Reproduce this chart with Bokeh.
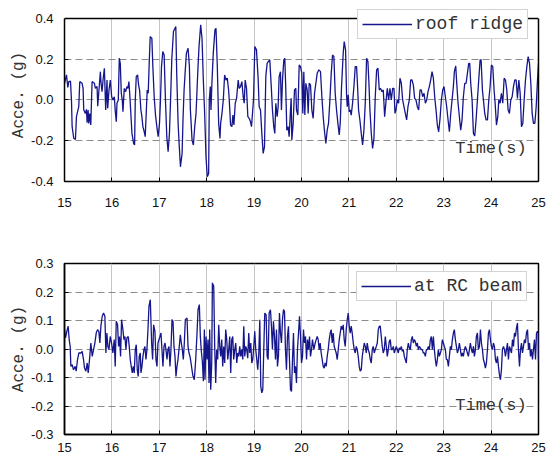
from bokeh.plotting import figure
from bokeh.models import (Range1d, FixedTicker, PrintfTickFormatter, Legend,
                          LegendItem, Label, BoxAnnotation, Span, LinearAxis)
from bokeh.layouts import column
from bokeh.embed import file_html
from bokeh.resources import INLINE

# ---------------- data (time s, acceleration g) ----------------
x_ticks = list(range(15, 26))
roof_y_ticks = [-0.4, -0.2, 0.0, 0.2, 0.4]
beam_y_ticks = [-0.3, -0.2, -0.1, 0.0, 0.1, 0.2, 0.3]

roof_ridge = [
    (15.000, 0.082), (15.042, 0.123), (15.070, 0.062), (15.091, 0.090), (15.126, 0.093),
    (15.147, 0.000), (15.161, -0.131), (15.196, -0.189), (15.231, -0.193), (15.252, -0.082),
    (15.301, -0.033), (15.322, 0.090), (15.371, 0.082), (15.392, 0.057), (15.406, -0.049),
    (15.441, -0.066), (15.463, -0.046), (15.477, -0.111), (15.498, -0.049), (15.512, -0.115),
    (15.533, -0.066), (15.554, -0.123), (15.582, 0.090), (15.631, 0.082), (15.652, 0.057),
    (15.687, 0.066), (15.701, -0.030), (15.722, 0.033), (15.757, 0.139), (15.771, 0.082),
    (15.792, 0.041), (15.813, 0.098), (15.841, 0.156), (15.869, -0.049), (15.897, 0.098),
    (15.911, -0.041), (15.939, 0.049), (15.967, 0.098), (15.995, 0.016), (16.023, 0.000),
    (16.051, 0.016), (16.072, -0.057), (16.093, -0.107), (16.107, -0.016), (16.135, 0.000),
    (16.156, 0.205), (16.177, 0.180), (16.198, 0.033), (16.219, 0.000), (16.233, -0.057),
    (16.261, 0.057), (16.289, 0.041), (16.317, 0.066), (16.338, 0.057), (16.359, 0.090),
    (16.380, 0.016), (16.423, -0.164), (16.458, -0.213), (16.479, -0.221), (16.493, 0.000),
    (16.514, 0.115), (16.542, 0.123), (16.563, 0.074), (16.584, 0.049), (16.612, -0.049),
    (16.633, -0.082), (16.654, -0.131), (16.682, -0.156), (16.703, -0.180), (16.724, -0.066),
    (16.745, 0.049), (16.766, 0.033), (16.787, 0.180), (16.808, 0.311), (16.843, 0.303),
    (16.864, 0.164), (16.892, 0.016), (16.920, -0.074), (16.948, -0.131), (16.976, -0.180),
    (17.004, -0.115), (17.025, 0.000), (17.046, 0.164), (17.074, 0.238), (17.102, 0.221),
    (17.130, 0.000), (17.158, -0.180), (17.186, -0.254), (17.214, -0.164), (17.242, 0.033),
    (17.263, 0.197), (17.299, 0.336), (17.348, 0.361), (17.369, 0.115), (17.397, -0.115),
    (17.418, -0.213), (17.446, -0.328), (17.481, -0.262), (17.502, -0.082), (17.523, 0.049),
    (17.544, 0.131), (17.572, 0.230), (17.607, 0.254), (17.635, 0.164), (17.656, -0.049),
    (17.691, -0.197), (17.719, -0.221), (17.747, -0.131), (17.775, -0.066), (17.817, 0.164),
    (17.838, 0.262), (17.873, 0.369), (17.901, 0.303), (17.929, 0.098), (17.957, -0.066),
    (17.985, -0.279), (18.013, -0.377), (18.041, -0.361), (18.055, 0.000), (18.076, 0.066),
    (18.090, -0.049), (18.111, 0.090), (18.139, 0.230), (18.174, 0.344), (18.196, 0.352),
    (18.224, 0.164), (18.252, -0.115), (18.280, -0.189), (18.294, -0.115), (18.322, -0.066),
    (18.350, 0.000), (18.378, 0.123), (18.406, 0.098), (18.434, 0.107), (18.462, 0.049),
    (18.476, 0.000), (18.504, -0.123), (18.532, -0.131), (18.553, -0.074), (18.574, -0.123),
    (18.602, -0.016), (18.630, 0.008), (18.665, 0.098), (18.686, 0.057), (18.714, 0.066),
    (18.742, 0.090), (18.770, 0.016), (18.791, -0.016), (18.812, 0.098), (18.840, 0.057),
    (18.868, -0.082), (18.896, -0.090), (18.924, -0.107), (18.945, -0.131), (18.966, -0.066),
    (18.987, 0.000), (19.015, 0.262), (19.050, 0.246), (19.085, 0.107), (19.107, -0.033),
    (19.135, -0.049), (19.163, -0.164), (19.191, -0.262), (19.219, -0.230), (19.247, 0.115),
    (19.275, 0.180), (19.303, 0.189), (19.331, 0.197), (19.366, 0.049), (19.387, -0.049),
    (19.415, -0.131), (19.437, -0.164), (19.458, -0.016), (19.486, -0.082), (19.507, -0.033),
    (19.528, 0.115), (19.556, 0.139), (19.577, -0.049), (19.599, 0.098), (19.627, 0.197),
    (19.648, 0.205), (19.669, 0.049), (19.690, -0.148), (19.718, -0.131), (19.739, -0.180),
    (19.768, -0.049), (19.782, 0.008), (19.796, -0.197), (19.824, -0.115), (19.852, 0.049),
    (19.880, 0.057), (19.894, -0.049), (19.923, -0.074), (19.951, 0.172), (19.979, 0.164),
    (20.007, 0.131), (20.028, -0.066), (20.049, 0.139), (20.070, -0.074), (20.092, 0.082),
    (20.120, 0.049), (20.141, -0.066), (20.162, 0.082), (20.190, 0.074), (20.218, -0.049),
    (20.246, -0.090), (20.275, 0.033), (20.303, 0.082), (20.331, 0.131), (20.366, 0.148),
    (20.401, 0.139), (20.430, 0.016), (20.458, -0.082), (20.486, -0.156), (20.514, -0.213),
    (20.542, -0.148), (20.570, -0.115), (20.599, 0.000), (20.627, 0.131), (20.655, 0.221),
    (20.683, 0.213), (20.711, 0.033), (20.739, -0.049), (20.768, -0.115), (20.796, -0.172),
    (20.817, -0.115), (20.845, 0.066), (20.880, 0.230), (20.901, 0.287), (20.930, 0.246),
    (20.951, 0.025), (20.965, -0.033), (20.986, 0.025), (21.007, -0.057), (21.028, -0.049),
    (21.049, -0.074), (21.077, -0.016), (21.106, 0.066), (21.134, 0.164), (21.162, 0.164),
    (21.183, 0.066), (21.204, -0.049), (21.232, -0.098), (21.261, -0.164), (21.289, -0.221),
    (21.317, -0.148), (21.345, -0.016), (21.373, 0.205), (21.401, 0.189), (21.423, 0.082),
    (21.444, -0.049), (21.472, -0.164), (21.500, -0.238), (21.528, -0.189), (21.556, 0.016),
    (21.585, 0.148), (21.613, 0.156), (21.641, 0.049), (21.669, 0.057), (21.697, 0.041),
    (21.725, 0.049), (21.754, -0.082), (21.782, -0.008), (21.810, 0.057), (21.838, 0.000),
    (21.866, 0.057), (21.894, 0.000), (21.923, 0.057), (21.951, 0.057), (21.972, -0.066),
    (21.993, -0.049), (22.021, 0.000), (22.049, -0.016), (22.077, 0.107), (22.106, 0.082),
    (22.134, 0.000), (22.162, -0.033), (22.190, -0.066), (22.218, -0.098), (22.246, -0.033),
    (22.275, 0.000), (22.303, 0.098), (22.331, 0.098), (22.359, 0.074), (22.387, 0.008),
    (22.415, 0.000), (22.444, -0.033), (22.472, -0.049), (22.500, 0.049), (22.528, 0.049),
    (22.556, 0.016), (22.585, 0.033), (22.613, -0.016), (22.641, 0.000), (22.669, 0.041),
    (22.697, 0.066), (22.725, 0.098), (22.754, 0.139), (22.782, 0.107), (22.810, 0.016),
    (22.838, -0.049), (22.866, -0.123), (22.894, -0.156), (22.923, -0.090), (22.951, 0.000),
    (22.979, 0.049), (23.007, 0.066), (23.035, 0.016), (23.063, -0.033), (23.092, -0.098),
    (23.120, -0.156), (23.148, -0.066), (23.176, 0.000), (23.204, 0.066), (23.225, 0.139),
    (23.254, 0.167), (23.275, 0.082), (23.303, -0.016), (23.331, -0.082), (23.359, -0.148),
    (23.387, -0.098), (23.415, 0.016), (23.444, 0.082), (23.472, 0.082), (23.500, 0.131),
    (23.528, 0.180), (23.549, 0.180), (23.570, 0.082), (23.599, 0.000), (23.627, -0.164),
    (23.655, -0.177), (23.683, -0.098), (23.711, 0.000), (23.739, 0.098), (23.768, 0.197),
    (23.789, 0.197), (23.817, 0.049), (23.838, 0.000), (23.866, -0.066), (23.894, -0.098),
    (23.923, -0.098), (23.951, 0.000), (23.979, 0.066), (24.007, 0.172), (24.035, 0.164),
    (24.063, 0.049), (24.085, -0.016), (24.113, -0.123), (24.141, -0.082), (24.162, 0.000),
    (24.190, -0.016), (24.218, 0.033), (24.246, -0.016), (24.275, 0.107), (24.303, 0.098),
    (24.331, 0.049), (24.359, -0.049), (24.387, -0.066), (24.415, 0.000), (24.444, 0.016),
    (24.472, 0.066), (24.500, 0.098), (24.528, 0.098), (24.556, 0.008), (24.585, 0.098),
    (24.613, 0.033), (24.641, -0.131), (24.669, -0.115), (24.697, 0.000), (24.725, 0.098),
    (24.754, 0.164), (24.782, 0.213), (24.810, 0.180), (24.838, 0.082), (24.866, -0.066),
    (24.894, -0.115), (24.923, -0.115), (24.951, -0.033), (24.979, 0.098), (25.000, 0.180),
]

rc_beam = [
    (15.000, 0.068), (15.021, 0.039), (15.049, 0.062), (15.077, 0.080), (15.099, 0.033),
    (15.120, 0.009), (15.134, -0.061), (15.162, -0.055), (15.190, -0.073), (15.225, -0.061),
    (15.246, -0.078), (15.275, -0.037), (15.303, -0.014), (15.345, -0.014), (15.373, -0.008),
    (15.401, -0.037), (15.423, -0.067), (15.451, -0.078), (15.479, -0.049), (15.500, -0.084),
    (15.528, -0.037), (15.556, 0.021), (15.585, -0.026), (15.613, -0.002), (15.641, 0.021),
    (15.669, 0.056), (15.697, 0.068), (15.725, 0.062), (15.746, 0.021), (15.768, 0.080),
    (15.796, 0.115), (15.824, 0.126), (15.852, 0.115), (15.873, -0.014), (15.894, 0.056),
    (15.915, 0.009), (15.937, -0.002), (15.965, 0.044), (15.993, 0.021), (16.021, -0.014),
    (16.049, 0.033), (16.070, -0.061), (16.092, 0.097), (16.120, 0.085), (16.141, 0.009),
    (16.162, 0.044), (16.183, -0.026), (16.204, 0.103), (16.232, 0.068), (16.254, 0.033),
    (16.275, 0.044), (16.296, -0.002), (16.317, 0.039), (16.345, 0.044), (16.366, 0.009),
    (16.387, -0.037), (16.408, -0.061), (16.430, -0.084), (16.451, -0.061), (16.472, -0.084),
    (16.493, -0.002), (16.514, 0.015), (16.535, -0.073), (16.556, -0.096), (16.577, -0.026),
    (16.599, -0.014), (16.613, -0.084), (16.634, -0.061), (16.655, -0.026), (16.676, -0.002),
    (16.697, 0.009), (16.718, -0.037), (16.739, -0.002), (16.761, 0.068), (16.782, 0.150),
    (16.810, 0.173), (16.838, 0.021), (16.859, -0.037), (16.880, 0.085), (16.908, 0.062),
    (16.930, -0.037), (16.951, -0.061), (16.972, 0.021), (16.993, 0.033), (17.014, 0.044),
    (17.035, 0.056), (17.056, -0.002), (17.077, -0.061), (17.099, 0.009), (17.120, 0.021),
    (17.141, -0.002), (17.162, -0.037), (17.183, -0.002), (17.204, 0.009), (17.225, -0.061),
    (17.246, -0.002), (17.268, 0.103), (17.289, 0.097), (17.310, 0.009), (17.331, -0.026),
    (17.352, -0.096), (17.373, -0.061), (17.394, -0.037), (17.415, -0.002), (17.444, 0.050),
    (17.465, 0.021), (17.486, -0.002), (17.507, -0.037), (17.528, 0.021), (17.549, 0.103),
    (17.585, 0.109), (17.606, 0.009), (17.627, -0.014), (17.648, -0.026), (17.669, -0.049),
    (17.690, -0.073), (17.711, -0.096), (17.739, -0.108), (17.768, -0.037), (17.796, 0.056),
    (17.817, 0.138), (17.845, 0.156), (17.866, 0.044), (17.887, -0.008), (17.908, -0.043),
    (17.930, -0.113), (17.951, 0.068), (17.965, -0.108), (17.986, 0.044), (18.007, -0.037),
    (18.028, 0.033), (18.049, -0.119), (18.063, 0.068), (18.085, -0.143), (18.106, -0.049),
    (18.120, 0.232), (18.148, 0.220), (18.169, 0.009), (18.190, -0.119), (18.211, -0.002),
    (18.232, -0.037), (18.254, 0.085), (18.275, 0.009), (18.296, -0.026), (18.317, 0.033),
    (18.338, -0.061), (18.359, 0.009), (18.380, -0.049), (18.401, 0.068), (18.423, 0.033),
    (18.444, -0.037), (18.465, -0.002), (18.486, 0.044), (18.507, -0.084), (18.528, 0.033),
    (18.549, 0.044), (18.570, -0.037), (18.592, -0.002), (18.613, 0.021), (18.634, -0.049),
    (18.655, -0.014), (18.676, -0.026), (18.697, 0.009), (18.718, -0.026), (18.739, -0.002),
    (18.761, -0.037), (18.782, 0.080), (18.803, -0.026), (18.824, 0.009), (18.845, -0.002),
    (18.866, -0.032), (18.887, 0.056), (18.908, -0.014), (18.930, 0.021), (18.951, -0.049),
    (18.972, -0.037), (18.993, 0.009), (19.014, 0.062), (19.035, -0.002), (19.056, -0.037),
    (19.077, -0.073), (19.099, -0.014), (19.120, 0.103), (19.141, -0.131), (19.162, -0.154),
    (19.183, -0.143), (19.204, -0.002), (19.225, 0.126), (19.254, 0.120), (19.275, -0.026),
    (19.296, -0.037), (19.317, 0.126), (19.345, 0.138), (19.366, 0.080), (19.387, -0.002),
    (19.408, 0.097), (19.430, 0.044), (19.451, -0.037), (19.472, 0.068), (19.493, -0.061),
    (19.514, -0.026), (19.535, 0.126), (19.556, 0.056), (19.577, 0.021), (19.599, 0.103),
    (19.620, 0.138), (19.641, 0.132), (19.662, -0.002), (19.683, -0.073), (19.704, 0.044),
    (19.725, 0.080), (19.746, -0.037), (19.768, -0.143), (19.789, -0.149), (19.810, -0.037),
    (19.831, 0.056), (19.852, -0.084), (19.873, -0.061), (19.894, -0.119), (19.915, -0.002),
    (19.937, 0.056), (19.958, 0.115), (19.979, 0.044), (20.000, -0.049), (20.021, -0.026),
    (20.042, 0.068), (20.063, 0.021), (20.085, 0.044), (20.106, -0.037), (20.127, 0.033),
    (20.148, -0.002), (20.169, 0.044), (20.190, -0.026), (20.211, -0.002), (20.232, 0.033),
    (20.261, -0.002), (20.289, 0.021), (20.310, 0.033), (20.331, 0.044), (20.352, 0.033),
    (20.373, -0.002), (20.394, 0.021), (20.415, -0.014), (20.437, -0.037), (20.458, -0.061),
    (20.479, -0.067), (20.500, -0.049), (20.521, -0.061), (20.542, -0.026), (20.563, -0.002),
    (20.585, 0.033), (20.606, 0.056), (20.627, 0.068), (20.648, 0.021), (20.669, 0.056),
    (20.690, 0.009), (20.711, -0.002), (20.732, -0.014), (20.754, -0.037), (20.775, -0.002),
    (20.796, 0.033), (20.817, 0.056), (20.838, 0.080), (20.859, 0.068), (20.880, 0.085),
    (20.901, 0.033), (20.923, 0.009), (20.944, 0.068), (20.965, 0.103), (20.986, 0.126),
    (21.007, 0.080), (21.028, 0.056), (21.049, 0.080), (21.070, 0.056), (21.092, 0.021),
    (21.113, -0.002), (21.134, -0.014), (21.155, 0.009), (21.176, -0.002), (21.197, -0.026),
    (21.218, -0.061), (21.239, -0.078), (21.261, -0.073), (21.282, -0.026), (21.303, -0.002),
    (21.324, 0.021), (21.345, 0.009), (21.366, -0.014), (21.387, 0.021), (21.408, -0.002),
    (21.430, -0.014), (21.451, -0.037), (21.472, -0.049), (21.493, -0.002), (21.514, 0.009),
    (21.535, -0.014), (21.556, -0.002), (21.577, 0.009), (21.599, 0.021), (21.620, 0.068),
    (21.641, 0.080), (21.662, 0.080), (21.683, 0.044), (21.704, 0.009), (21.725, -0.014),
    (21.746, -0.002), (21.768, 0.044), (21.789, 0.009), (21.810, -0.026), (21.831, -0.002),
    (21.852, 0.027), (21.873, 0.033), (21.894, -0.002), (21.915, -0.002), (21.937, 0.009),
    (21.958, -0.014), (21.979, -0.002), (22.000, 0.009), (22.021, -0.002), (22.042, -0.014),
    (22.063, 0.004), (22.085, -0.002), (22.106, 0.009), (22.127, -0.008), (22.148, -0.002),
    (22.169, -0.026), (22.190, -0.037), (22.211, -0.049), (22.232, -0.002), (22.254, 0.021),
    (22.275, 0.004), (22.296, -0.002), (22.317, 0.033), (22.338, 0.044), (22.359, 0.021),
    (22.380, 0.033), (22.401, 0.027), (22.423, 0.009), (22.444, 0.021), (22.465, -0.002),
    (22.486, 0.009), (22.507, 0.004), (22.528, -0.002), (22.549, -0.002), (22.570, -0.014),
    (22.592, -0.014), (22.613, -0.026), (22.634, -0.002), (22.655, -0.002), (22.676, 0.009),
    (22.697, -0.002), (22.718, 0.033), (22.739, 0.044), (22.761, -0.002), (22.782, 0.044),
    (22.803, -0.002), (22.824, -0.037), (22.845, -0.061), (22.866, -0.037), (22.887, -0.002),
    (22.908, -0.026), (22.930, -0.014), (22.951, -0.002), (22.972, 0.033), (22.993, 0.021),
    (23.014, 0.009), (23.035, -0.002), (23.056, -0.037), (23.077, -0.037), (23.099, -0.061),
    (23.120, -0.026), (23.141, 0.009), (23.162, -0.002), (23.183, 0.033), (23.204, 0.056),
    (23.225, 0.068), (23.246, 0.033), (23.268, 0.009), (23.289, -0.014), (23.310, -0.002),
    (23.331, 0.021), (23.352, -0.002), (23.373, -0.026), (23.394, -0.014), (23.415, -0.026),
    (23.437, -0.002), (23.458, 0.009), (23.479, -0.002), (23.500, -0.014), (23.521, -0.026),
    (23.542, -0.002), (23.563, 0.021), (23.585, -0.002), (23.606, -0.014), (23.627, 0.009),
    (23.648, -0.026), (23.669, -0.002), (23.690, 0.044), (23.711, 0.056), (23.732, -0.002),
    (23.754, 0.009), (23.775, 0.068), (23.796, 0.021), (23.817, -0.002), (23.838, -0.037),
    (23.859, -0.049), (23.880, -0.067), (23.901, -0.049), (23.923, -0.002), (23.944, 0.056),
    (23.965, 0.068), (23.986, 0.033), (24.007, 0.009), (24.028, -0.002), (24.049, 0.021),
    (24.070, 0.009), (24.092, -0.037), (24.113, -0.049), (24.134, -0.026), (24.155, -0.061),
    (24.176, -0.090), (24.197, -0.108), (24.218, -0.073), (24.239, -0.002), (24.261, 0.009),
    (24.282, -0.002), (24.303, -0.026), (24.324, -0.002), (24.345, 0.021), (24.366, -0.037),
    (24.387, 0.009), (24.408, -0.002), (24.430, -0.014), (24.451, 0.033), (24.472, 0.009),
    (24.493, 0.056), (24.514, 0.044), (24.535, 0.074), (24.556, 0.091), (24.577, -0.002),
    (24.599, -0.061), (24.620, -0.002), (24.641, 0.021), (24.662, -0.014), (24.683, 0.009),
    (24.704, 0.033), (24.725, 0.021), (24.746, 0.056), (24.768, 0.068), (24.789, -0.002),
    (24.810, 0.021), (24.831, -0.026), (24.852, -0.002), (24.873, -0.037), (24.894, -0.002),
    (24.915, 0.033), (24.937, -0.037), (24.958, 0.056), (24.979, 0.062), (24.993, 0.056),
    (25.000, -0.045),
]

LINE_COLOR = "#16168c"
MONO = "Liberation Mono"
SANS = "Liberation Sans"


def make_panel(data, name, y_lo, y_hi, y_ticks, height, mb_top, mb_bottom,
               x_standoff, legend_loc, time_y, head_room=0.0):
    p = figure(width=548, height=height, output_backend="svg",
               toolbar_location=None, tools="",
               x_range=Range1d(15, 25),
               y_range=Range1d(y_lo, y_hi + head_room),
               min_border_left=64, min_border_right=10,
               min_border_top=mb_top, min_border_bottom=mb_bottom,
               background_fill_color="white", border_fill_color="white")

    t = [d[0] for d in data]
    a = [d[1] for d in data]
    r = p.line(t, a, line_color=LINE_COLOR, line_width=1.3)

    # axes
    p.xaxis.ticker = FixedTicker(ticks=x_ticks)
    p.yaxis.ticker = FixedTicker(ticks=y_ticks)
    p.yaxis.formatter = PrintfTickFormatter(format="%.1f")
    for ax in (p.xaxis, p.yaxis):
        ax.axis_line_color = "black"
        ax.axis_line_width = 1.5
        ax.major_tick_in = 4
        ax.major_tick_out = 0
        ax.major_tick_line_color = "black"
        ax.minor_tick_line_color = None
        ax.major_label_text_font = SANS
        ax.major_label_text_font_size = "13px"
        ax.major_label_text_color = "#111111"
    p.xaxis.major_label_standoff = x_standoff
    p.yaxis.major_label_standoff = 11
    p.yaxis.axis_label = "Acce. (g)"
    p.yaxis.axis_label_text_font = MONO
    p.yaxis.axis_label_text_font_size = "16px"
    p.yaxis.axis_label_text_font_style = "normal"
    p.yaxis.axis_label_text_color = "#333333"
    p.yaxis.axis_label_text_line_height = 1.0
    p.yaxis.axis_label_standoff = 0

    # grids
    p.xgrid.grid_line_color = "#c4c4c4"
    p.xgrid.grid_line_width = 1
    p.ygrid.grid_line_color = "#8c8c8c"
    p.ygrid.grid_line_width = 1
    p.ygrid.grid_line_dash = "7 4"

    if head_room > 0:
        # frame box ends at y_hi; the legend may poke above it
        p.outline_line_color = None
        p.yaxis.bounds = (y_lo, y_hi)
        p.add_layout(BoxAnnotation(bottom=y_hi, fill_color="white",
                                   fill_alpha=1.0, line_color=None))
        p.add_layout(Span(location=y_hi, dimension="width",
                          line_color="black", line_width=1.5))
        right = LinearAxis(bounds=(y_lo, y_hi), ticker=FixedTicker(ticks=[]),
                           axis_line_color="black", axis_line_width=1.5,
                           major_tick_line_color=None,
                           minor_tick_line_color=None,
                           major_label_standoff=0,
                           major_label_text_font_size="1px")
        p.add_layout(right, "right")
    else:
        p.outline_line_color = "black"
        p.outline_line_width = 1.5

    # legend
    legend = Legend(items=[LegendItem(label=name, renderers=[r])],
                    location=legend_loc, margin=0, padding=4,
                    glyph_width=50, glyph_height=20, label_height=20,
                    label_standoff=3, spacing=0,
                    label_text_font=MONO, label_text_font_size="18px",
                    label_text_color="#333333",
                    border_line_color="#a8a8a8", border_line_width=1.5,
                    background_fill_color="white", background_fill_alpha=1.0)
    p.add_layout(legend)

    p.add_layout(Label(x=24.75, y=time_y, text="Time(s)", text_align="right",
                       text_baseline="middle", text_font=MONO,
                       text_font_size="17px", text_color="#333333"))
    return p


top = make_panel(roof_ridge, "roof ridge", -0.4, 0.4, roof_y_ticks,
                 height=250, mb_top=8, mb_bottom=69, x_standoff=16,
                 legend_loc=(293, 142), time_y=-0.238, head_room=0.049)
bottom = make_panel(rc_beam, "at RC beam", -0.3, 0.3, beam_y_ticks,
                    height=208, mb_top=13, mb_bottom=24, x_standoff=8,
                    legend_loc=(292, 133), time_y=-0.198)

layout = column(top, bottom, spacing=0)

open("out.html", "w").write(file_html(layout, INLINE))
